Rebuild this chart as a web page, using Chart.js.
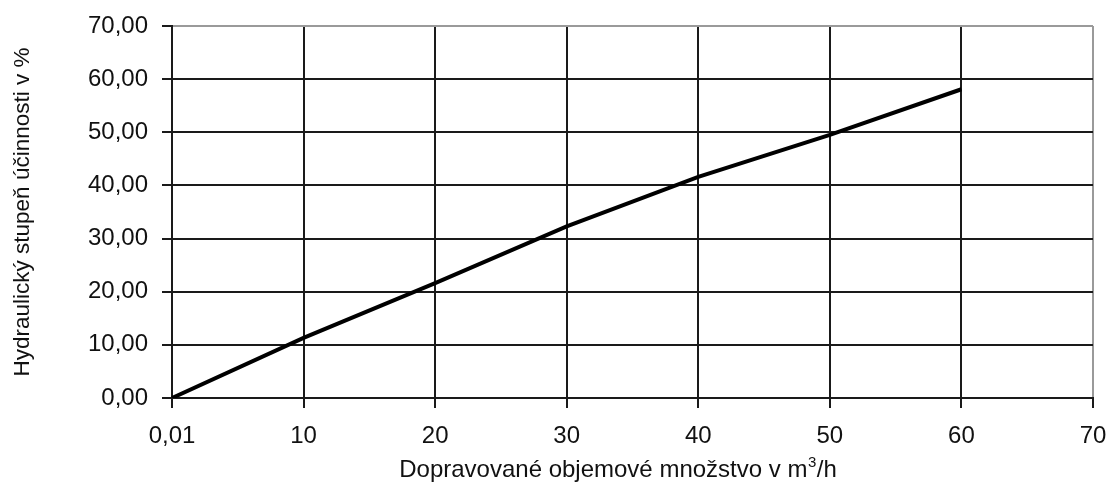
<!DOCTYPE html>
<html>
<head>
<meta charset="utf-8">
<script src="https://cdn.jsdelivr.net/npm/chart.js@4.4.1/dist/chart.umd.min.js"></script>
<style>
  html, body { margin: 0; padding: 0; background: #fff; }
  #wrap { width: 1110px; height: 487px; position: relative; }
</style>
</head>
<body>
<div id="wrap"><canvas id="c" width="1110" height="487"></canvas></div>
<script>
// Flow rate categories (m³/h) and hydraulic efficiency (%)
const flowLabels = ['0,01', '10', '20', '30', '40', '50', '60', '70'];
const efficiency = [0, 11.3, 21.6, 32.3, 41.6, 49.5, 58.1, null];
const yTickValues = [0, 10, 20, 30, 40, 50, 60, 70];

const yTitle = 'Hydraulický stupeň účinnosti v %';
const xTitleMain = 'Dopravované objemové množstvo v m';
const xTitleSup = '3';
const xTitleEnd = '/h';

const FONT = '"Liberation Sans", Arial, sans-serif';
const TEXT = '#111';
const GRID = '#1a1a1a';
const EDGE = '#9a9a9a';

// x-axis title with a real superscript
const xTitlePlugin = {
  id: 'xTitle',
  afterDraw(chart) {
    const ctx = chart.ctx;
    ctx.save();
    ctx.fillStyle = TEXT;
    ctx.textBaseline = 'alphabetic';
    ctx.textAlign = 'left';
    const big = '24px ' + FONT;
    const small = '15px ' + FONT;
    ctx.font = big;
    const w1 = ctx.measureText(xTitleMain).width;
    const w3 = ctx.measureText(xTitleEnd).width;
    ctx.font = small;
    const w2 = ctx.measureText(xTitleSup).width;
    const total = w1 + w2 + w3;
    const cx = (chart.chartArea.left + chart.chartArea.right) / 2 - 15;
    let x = cx - total / 2;
    const y = 477;
    ctx.font = big;
    ctx.fillText(xTitleMain, x, y);
    x += w1;
    ctx.font = small;
    ctx.fillText(xTitleSup, x + 0.5, y - 10);
    x += w2 + 1;
    ctx.font = big;
    ctx.fillText(xTitleEnd, x, y);
    ctx.restore();
  }
};

new Chart(document.getElementById('c'), {
  type: 'line',
  data: {
    labels: flowLabels,
    datasets: [{
      data: efficiency,
      borderColor: '#000',
      borderWidth: 4,
      pointRadius: 0,
      tension: 0,
      fill: false
    }]
  },
  options: {
    responsive: false,
    animation: false,
    devicePixelRatio: 1,
    layout: { padding: { left: 0, top: 26, right: 17, bottom: 0 } },
    plugins: { legend: { display: false }, tooltip: { enabled: false } },
    scales: {
      x: {
        type: 'category',
        offset: false,
        grid: {
          color: (c) => (c.index === flowLabels.length - 1 ? EDGE : GRID),
          tickColor: GRID,
          lineWidth: 2,
          tickLength: 10
        },
        border: { color: GRID, width: 2 },
        ticks: {
          color: TEXT,
          font: { family: FONT, size: 24 },
          padding: 14,
          maxRotation: 0,
          autoSkip: false
        },
        afterFit(scale) {
          scale.height = 89;
          scale.paddingLeft = 0;
          scale.paddingRight = 0;
        }
      },
      y: {
        min: 0,
        max: 70,
        afterBuildTicks(scale) { scale.ticks = yTickValues.map(v => ({ value: v })); },
        grid: {
          color: (c) => (c.tick && c.tick.value === 70 ? EDGE : GRID),
          tickColor: GRID,
          lineWidth: 2,
          tickLength: 10
        },
        border: { color: GRID, width: 2 },
        ticks: {
          color: TEXT,
          font: { family: FONT, size: 24 },
          padding: 14,
          callback: (v) => Number(v).toFixed(2).replace('.', ',')
        },
        title: {
          display: true,
          text: yTitle,
          color: TEXT,
          font: { family: FONT, size: 22.5 },
          padding: { top: 9, bottom: 0 }
        },
        afterFit(scale) {
          scale.width = 172;
          scale.paddingTop = 0;
          scale.paddingBottom = 0;
        }
      }
    }
  },
  plugins: [xTitlePlugin]
});
</script>
</body>
</html>
